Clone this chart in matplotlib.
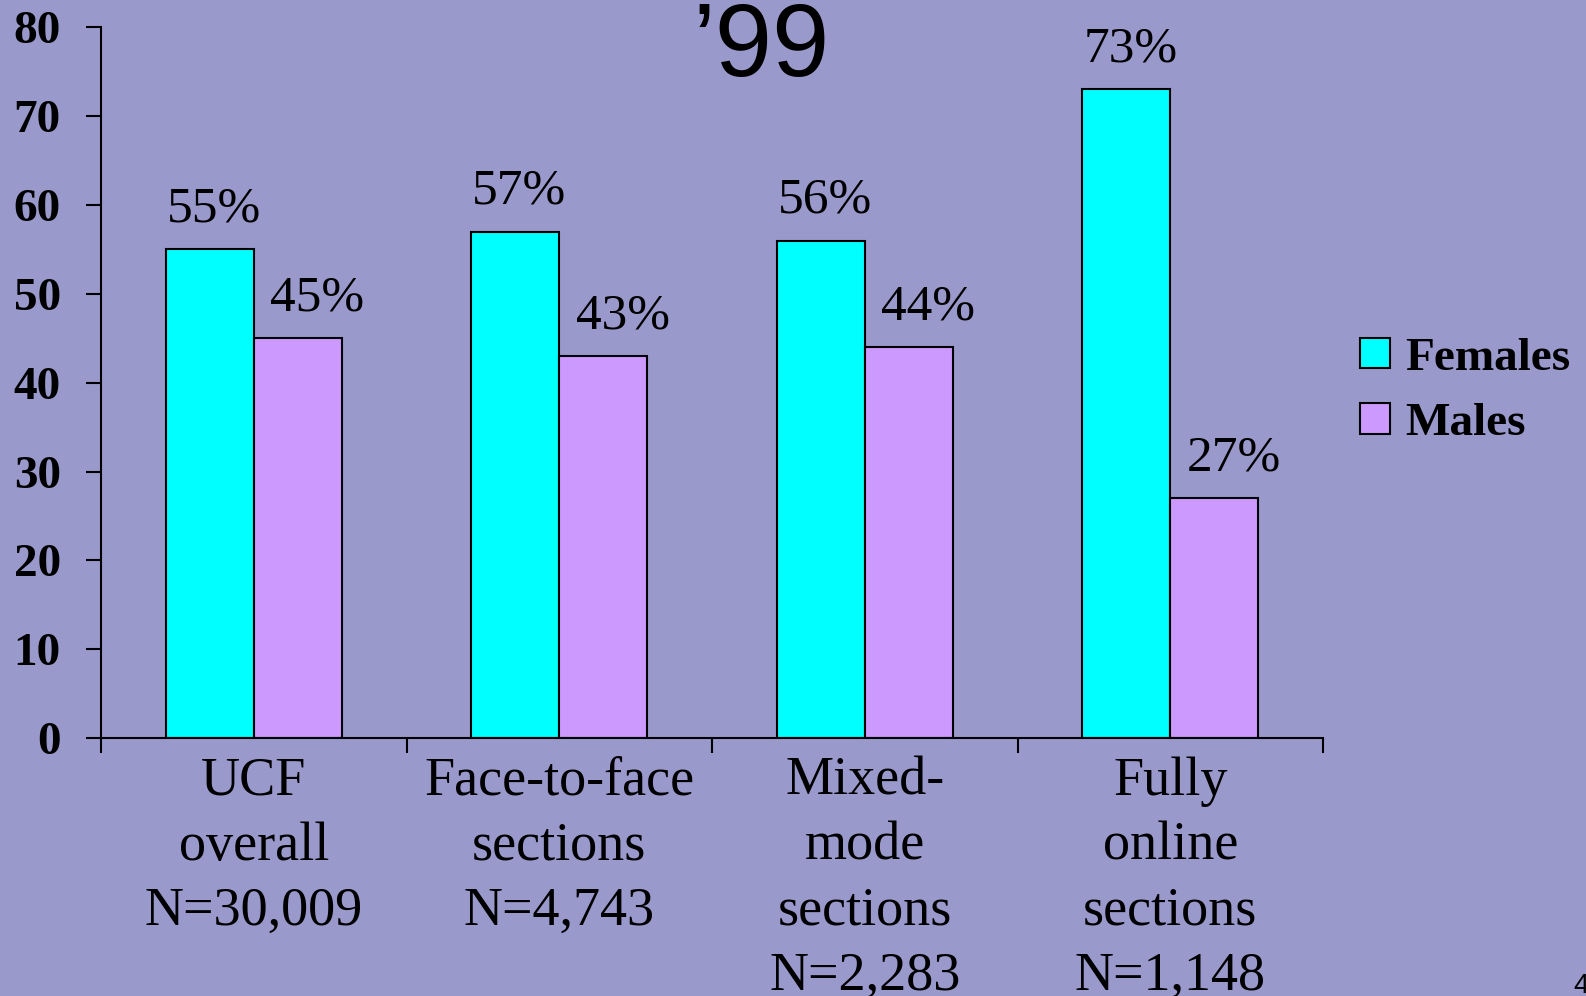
#导入相关模块
import numpy as np
import matplotlib
matplotlib.use('Agg')
import matplotlib.pyplot as plt
from matplotlib.patches import Patch

plt.rcParams['font.family'] = ['Liberation Serif', 'DejaVu Serif']

#数据
categories = ['UCF\noverall\nN=30,009', 'Face-to-face\nsections\nN=4,743',
              'Mixed-\nmode\nsections\nN=2,283', 'Fully\nonline\nsections\nN=1,148']
females = [55, 57, 56, 73]
males = [45, 43, 44, 27]
female_labels = ['55%', '57%', '56%', '73%']
male_labels = ['45%', '43%', '44%', '27%']
series_names = ['Females', 'Males']

bg = '#9999CC'
c_female = '#00FFFF'
c_male = '#CC99FF'

#1.画布和坐标轴
fig = plt.figure(figsize=(15.86, 9.96), dpi=100)
fig.patch.set_facecolor(bg)
ax = fig.add_axes([0.0637, 0.259, 0.7705, 0.7136])
ax.set_facecolor(bg)

#2.柱状图
x = np.arange(len(categories))
w = 0.288
b1 = ax.bar(x - w / 2, females, w, color=c_female, edgecolor='black', linewidth=1.5)
b2 = ax.bar(x + w / 2, males, w, color=c_male, edgecolor='black', linewidth=1.5)

#3.数值标签
for rect, lab in zip(b1, female_labels):
    ax.annotate(lab, (rect.get_x() + rect.get_width() / 2, rect.get_height()),
                xytext=(3, 12), textcoords='offset points', ha='center', va='bottom', fontsize=37)
for rect, lab in zip(b2, male_labels):
    ax.annotate(lab, (rect.get_x() + rect.get_width() / 2, rect.get_height()),
                xytext=(14, 12), textcoords='offset points', ha='center', va='bottom', fontsize=37)

#4.坐标轴设置
ax.set_xlim(-0.5, 3.5)
ax.set_ylim(0, 80)
ax.set_yticks(range(0, 81, 10))
ax.set_xticks(x)
ax.set_xticklabels(categories, fontsize=39, linespacing=1.38)
ax.set_xticks(np.arange(-0.5, 4, 1), minor=True)
ax.tick_params(axis='x', which='major', length=0, pad=13)
ax.tick_params(axis='x', which='minor', length=11, width=1.5, direction='out')
ax.tick_params(axis='y', length=11, width=1.5, direction='out', labelsize=34, pad=18)
for t in ax.get_yticklabels():
    t.set_fontweight('bold')
for s in ['top', 'right']:
    ax.spines[s].set_visible(False)
for s in ['left', 'bottom']:
    ax.spines[s].set_linewidth(1.5)

#5.图例
handles = [Patch(facecolor=c_female, edgecolor='black', linewidth=1.5),
           Patch(facecolor=c_male, edgecolor='black', linewidth=1.5)]
fig.legend(handles, series_names, loc='center left', bbox_to_anchor=(0.831, 0.607),
           frameon=False, prop={'weight': 'bold', 'size': 34},
           handlelength=0.62, handleheight=0.62, handletextpad=0.32, labelspacing=0.5)

#6.标题和页码
fig.text(0.480, 0.924, '\u201999', fontsize=74, family='Liberation Sans', ha='center', va='baseline')
fig.text(0.992, 0.023, '4', fontsize=20, family='Liberation Sans', ha='left', va='top')

plt.savefig('out.png', dpi=100, facecolor=bg)
